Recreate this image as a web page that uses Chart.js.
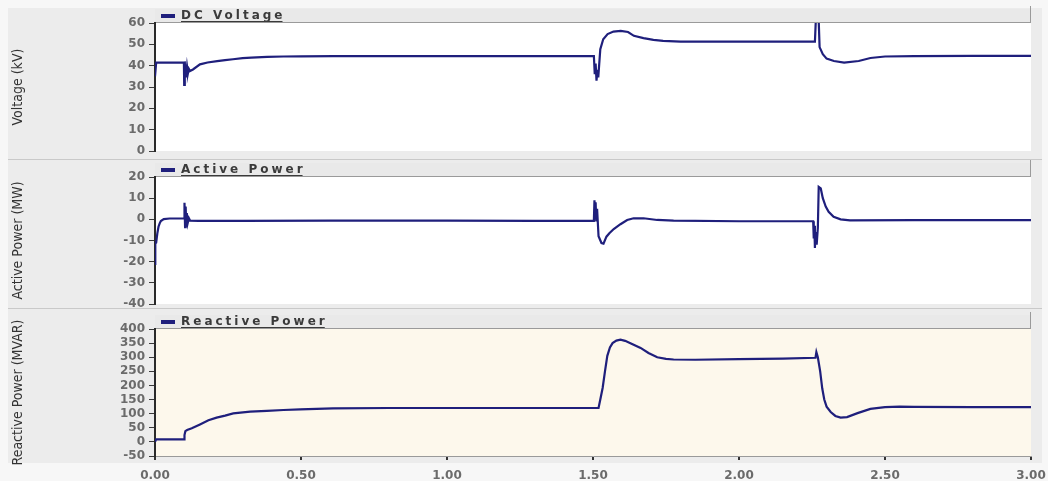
<!DOCTYPE html>
<html>
<head>
<meta charset="utf-8">
<script src="https://cdn.jsdelivr.net/npm/chart.js@4/dist/chart.umd.min.js"></script>
<style>
  html, body { margin: 0; padding: 0; background: #f7f7f7; }
  #wrap { position: relative; width: 1048px; height: 481px; overflow: hidden; }
  #bg { position: absolute; left: 8px; top: 8px; width: 1034px; height: 455px; background: #ececec; }
  .sep { position: absolute; left: 8px; width: 1034px; height: 1px; background: #c9c9c9; }
  canvas { position: absolute; left: 0; }
</style>
</head>
<body>
<div id="wrap">
  <div id="bg"></div>
  <div class="sep" style="top:159px"></div>
  <div class="sep" style="top:308px"></div>
  <canvas id="cVolt" width="1058" height="164" style="top:0"></canvas>
  <canvas id="cP" width="1058" height="156" style="top:160px"></canvas>
  <canvas id="cQ" width="1058" height="171" style="top:310px"></canvas>
</div>
<script>
// time axis (s)
const xTicks = [0, 0.5, 1.0, 1.5, 2.0, 2.5, 3.0];

// DC Voltage (kV)
const voltT = [0, 0.004, 0.008, 0.099, 0.1, 0.102, 0.104, 0.106, 0.108, 0.11, 0.113, 0.116, 0.12, 0.13,
  0.154, 0.18, 0.213, 0.24, 0.267, 0.3, 0.33, 0.384, 0.44, 0.5, 0.61, 0.8, 1.0, 1.2, 1.4,
  1.503, 1.506, 1.509, 1.512, 1.515, 1.518, 1.525, 1.535, 1.55, 1.57, 1.595, 1.62, 1.64, 1.673, 1.707, 1.74,
  1.8, 2.0, 2.2, 2.26, 2.263, 2.273, 2.276, 2.287, 2.3, 2.325, 2.36, 2.41, 2.45, 2.5, 2.6, 2.8, 3.0];
const voltKV = [35, 41.4, 41.4, 41.4, 31, 42, 35, 40.5, 36, 39.5, 36.5, 38.5, 37.5, 38.2,
  40.6, 41.5, 42.1, 42.6, 43.0, 43.5, 43.8, 44.1, 44.3, 44.4, 44.5, 44.5, 44.5, 44.5, 44.5,
  44.5, 36, 41, 33, 38, 34.5, 47.7, 52.4, 54.8, 56, 56.3, 55.8, 54, 52.9, 52.1, 51.6,
  51.3, 51.3, 51.3, 51.3, 61, 61, 48.7, 45.4, 43.3, 42.2, 41.4, 42.2, 43.6, 44.3, 44.5, 44.6, 44.6];

// Active Power (MW)
const powT = [0, 0.001, 0.004, 0.008, 0.012, 0.016, 0.02, 0.03, 0.05, 0.1,
  0.101, 0.103, 0.105, 0.107, 0.109, 0.112, 0.116, 0.12, 0.15, 0.3, 0.6, 1.0, 1.3,
  1.503, 1.505, 1.507, 1.509, 1.511, 1.514, 1.519, 1.529, 1.536, 1.546, 1.556, 1.571, 1.594, 1.617, 1.639, 1.673, 1.72, 1.776, 2.0,
  2.254, 2.256, 2.258, 2.26, 2.262, 2.266, 2.27, 2.273, 2.28, 2.287, 2.297, 2.307, 2.324, 2.348, 2.38, 2.6, 3.0];
const powMW = [-21, -11.3, -11, -6.6, -3.5, -1.9, -0.8, 0.1, 0.4, 0.4,
  7.8, -3.7, 6, -3, 3, -1.8, 0.5, -0.6, -0.7, -0.7, -0.6, -0.6, -0.7,
  -0.7, 9, 1, 8, -1, 5, -8, -11.2, -11.5, -8.2, -6.6, -4.6, -2.3, -0.3, 0.5, 0.5, -0.3, -0.6, -0.9,
  -0.9, -9, -3, -13.5, -6, -12, -4, 15.3, 14.6, 10, 6, 3.6, 1.2, 0, -0.5, -0.4, -0.4];

// Reactive Power (MVAR)
const qT = [0, 0.004, 0.01, 0.1, 0.101, 0.104, 0.11, 0.126, 0.154, 0.183, 0.211, 0.24, 0.268, 0.326, 0.383, 0.44, 0.497, 0.61,
  0.8, 1.0, 1.2, 1.4, 1.519, 1.525, 1.533, 1.541, 1.549, 1.558, 1.567, 1.58, 1.594, 1.61, 1.63, 1.663, 1.69, 1.72, 1.75, 1.776,
  1.85, 2.0, 2.15, 2.262, 2.265, 2.27, 2.278, 2.285, 2.292, 2.3, 2.314, 2.33, 2.348, 2.37, 2.406, 2.45, 2.5, 2.55, 2.6, 2.8, 3.0];
const qMVAR = [0, 9, 9, 9, 24, 38, 42, 48, 62, 77, 86, 93, 101, 107, 110, 113, 115.5, 119,
  120, 120, 120, 120, 120, 150, 191, 250, 305, 335, 350, 359, 362, 358, 349, 333, 315, 300, 294, 292,
  291, 293, 295, 298, 318, 300, 250, 190, 150, 125, 106, 92, 86, 88, 102, 117, 123, 125, 124, 123, 123];

const LINE = '#1f1f7c';
const TICK_FONT = { family: '"DejaVu Sans", Verdana, sans-serif', size: 12, weight: 'bold' };
const TITLE_FONT = { family: '"DejaVu Sans Condensed", "Liberation Sans Narrow", sans-serif', size: 14 };

// header strip with legend item + plot background
const panelFrame = {
  id: 'panelFrame',
  beforeDraw(chart, args, opts) {
    const { ctx, chartArea: a } = chart;
    const ds = chart.data.datasets[0];
    ctx.save();
    ctx.fillStyle = '#e9e9e9';
    ctx.fillRect(a.left, opts.headerTop, a.right - a.left, a.top - opts.headerTop);
    ctx.fillStyle = opts.fill;
    ctx.fillRect(a.left, a.top, a.right - a.left, a.bottom - a.top + (opts.extra || 0));
    ctx.strokeStyle = '#9a9a9a';
    ctx.lineWidth = 1;
    ctx.beginPath();
    ctx.moveTo(a.left, a.top - 0.5); ctx.lineTo(a.right, a.top - 0.5);
    ctx.moveTo(a.right - 0.5, opts.headerTop - 3); ctx.lineTo(a.right - 0.5, a.top);
    ctx.stroke();
    // legend item
    const y = (opts.headerTop + a.top) / 2;
    ctx.fillStyle = LINE;
    ctx.fillRect(a.left + 6, y - 2, 14, 4);
    ctx.font = 'bold 12px "DejaVu Sans", Verdana, sans-serif';
    ctx.letterSpacing = '3px';
    ctx.textBaseline = 'middle';
    ctx.fillStyle = '#3a3a3a';
    const tx = a.left + 26;
    ctx.fillText(ds.label, tx, y);
    const w = ctx.measureText(ds.label).width;
    ctx.fillRect(tx, y + 5, w - 3, 1);
    ctx.restore();
  }
};

function makePanel(id, label, xs, ys, yMin, yMax, yStep, yTitle, frame, padding, showX) {
  const pts = xs.map((x, i) => ({ x: x, y: ys[i] }));
  return new Chart(document.getElementById(id), {
    type: 'line',
    data: { datasets: [{ label: label, data: pts, borderColor: LINE, backgroundColor: LINE, borderWidth: 2.2, pointRadius: 0, tension: 0 }] },
    options: {
      responsive: false,
      animation: false,
      devicePixelRatio: 1,
      layout: { padding: padding },
      plugins: { legend: { display: false }, tooltip: { enabled: false }, panelFrame: frame },
      scales: {
        x: {
          type: 'linear', min: 0, max: 3, display: showX,
          afterBuildTicks: (s) => { s.ticks = xTicks.map(v => ({ value: v })); },
          afterFit: (s) => { s.height = showX ? 25 : 0; },
          border: { display: true, color: '#9a9a9a', width: 1 },
          grid: { drawOnChartArea: false, drawTicks: true, tickLength: 4, color: '#333', lineWidth: 2 },
          ticks: { color: '#6b6b6b', font: TICK_FONT, padding: 9, maxRotation: 0, autoSkip: false, callback: (v) => Number(v).toFixed(2) }
        },
        y: {
          min: yMin, max: yMax,
          afterFit: (s) => { s.width = 155; },
          border: { display: true, color: '#2a2a2a', width: 2 },
          grid: { drawOnChartArea: false, drawTicks: true, tickLength: 6, color: '#3a3a3a', lineWidth: 1 },
          ticks: { stepSize: yStep, autoSkip: false, color: '#6b6b6b', font: TICK_FONT, padding: 4 },
          title: { display: true, text: yTitle, color: '#333', font: TITLE_FONT, padding: { top: 10, bottom: 0 } }
        }
      }
    },
    plugins: [panelFrame]
  });
}

makePanel('cVolt', 'DC Voltage', voltT, voltKV, 0, 60, 10, 'Voltage (kV)',
  { headerTop: 9, fill: '#ffffff' }, { top: 23, bottom: 13, left: 0, right: 27 }, false);
makePanel('cP', 'Active Power', powT, powMW, -40, 20, 10, 'Active Power (MW)',
  { headerTop: 3, fill: '#ffffff' }, { top: 17, bottom: 12, left: 0, right: 27 }, false);
makePanel('cQ', 'Reactive Power', qT, qMVAR, -50, 400, 50, 'Reactive Power (MVAR)',
  { headerTop: 5, fill: '#fdf8ec', extra: 0 }, { top: 19, bottom: 0, left: 0, right: 27 }, true);
</script>
</body>
</html>
